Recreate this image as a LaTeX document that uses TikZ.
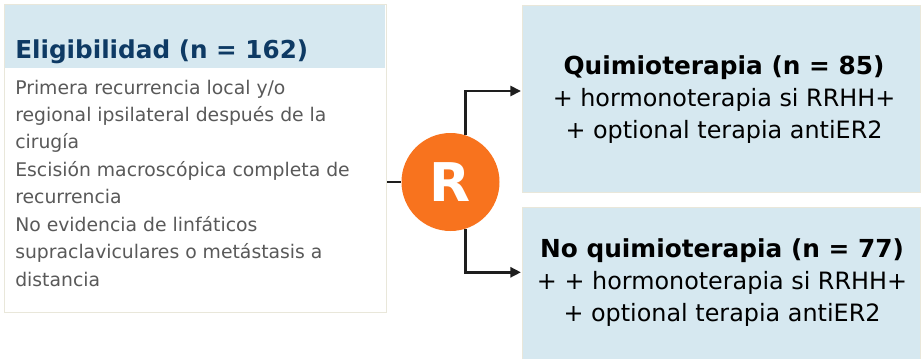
\documentclass[tikz,border=0pt]{standalone}
\usepackage{fontspec}
\setmainfont{DejaVu Sans}
\usetikzlibrary{arrows.meta}
\definecolor{hdrblue}{HTML}{D6E8F0}
\definecolor{bordr}{HTML}{E9E7DA}
\definecolor{navy}{HTML}{0E3A64}
\definecolor{bodygray}{HTML}{595959}
\definecolor{rorange}{HTML}{F8731E}
\definecolor{linek}{HTML}{1E1E1E}
\begin{document}
\begin{tikzpicture}[x=0.75pt,y=-0.75pt,
  lbox/.style={draw=bordr, line width=1.1pt, fill=white, anchor=north west, inner sep=0pt},
  hdr/.style={fill=hdrblue, anchor=north west, inner sep=0pt},
  rbox/.style={draw=bordr, line width=1.1pt, fill=hdrblue, anchor=north west, inner sep=0pt,
     minimum width=298.5pt},
  rtext/.style={align=center, inner sep=0pt, text=black,
     font=\fontsize{17.9}{24}\selectfont},
  conn/.style={line width=2pt, draw=linek},
  arr/.style={conn, -{Triangle[length=8pt,width=7.5pt]}}
]
\useasboundingbox (0,0) rectangle (921,358);
% left box
\node[lbox, minimum width=286.5pt, minimum height=231pt] (elig) at (4,4) {};
\node[hdr, minimum width=285pt, minimum height=47.25pt] (head) at (5,5) {};
\node[anchor=base west, inner sep=0pt, text=navy,
      font=\fontsize{18.5}{22}\selectfont\bfseries] (title) at (15,58) {Eligibilidad (n = 162)};
\node[anchor=north west, align=left, inner sep=0pt, text=bodygray,
      font=\fontsize{14.1}{20.6}\selectfont] (crit) at (15,79.5)
  {Primera recurrencia local y/o\\
   regional ipsilateral después de la\\
   cirugía\\
   Escisión macroscópica completa de\\
   recurrencia\\
   No evidencia de linfáticos\\
   supraclaviculares o metástasis a\\
   distancia};
% right boxes
\node[rbox, minimum height=140.25pt] (chemo) at (522,5) {};
\node[rbox, minimum height=115pt] (nochemo) at (522,207) {};
\node[rtext] (chemotxt) at (724,100) {{\fontsize{18.6}{24}\selectfont\bfseries Quimioterapia (n = 85)}\\
  + hormonoterapia si RRHH+\\
  + optional terapia antiER2};
\node[rtext] (nochemotxt) at (722,283) {{\fontsize{18.6}{24}\selectfont\bfseries No quimioterapia (n = 77)}\\
  + + hormonoterapia si RRHH+\\
  + optional terapia antiER2};
% randomisation circle
\node[circle, fill=rorange, minimum size=73.5pt, inner sep=0pt, text=white,
      font=\fontsize{40}{42}\selectfont\bfseries] (R) at (450.5,182) {R};
\coordinate (t1) at (521,91);
\coordinate (t2) at (521,272.3);
\draw[conn] (elig.east |- R.center) -- (R.west);
\draw[arr] (R.72) |- (t1);
\draw[arr] (R.-72) |- (t2);
\end{tikzpicture}
\end{document}
